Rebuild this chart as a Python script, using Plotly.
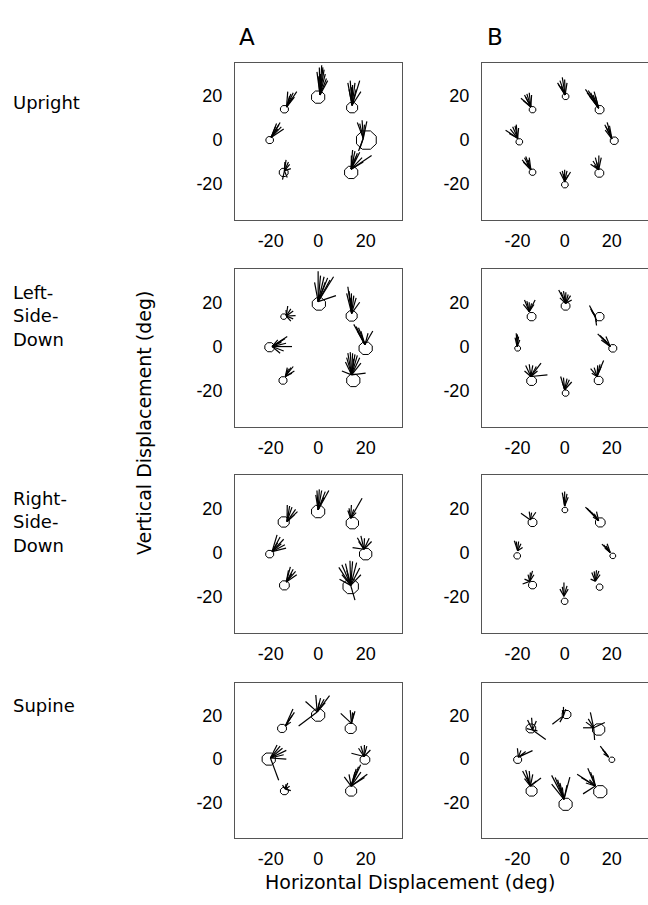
import numpy as np
import plotly.graph_objects as go

TICK_VALUES = [-20, 0, 20]
TICK_LABELS = ["-20", "0", "20"]
ROW_LABELS = ["Upright", "Left-<br>Side-<br>Down", "Right-<br>Side-<br>Down", "Supine"]
COL_LABELS = ["A", "B"]
X_TITLE = "Horizontal Displacement (deg)"
Y_TITLE = "Vertical Displacement (deg)"

# ---------- Column A, Upright ----------
A_UP_HULLS = [(0, 19.5, 3), (14.3, 14.7, 2.5), (20.3, 0, 4.5), (13.9, -14.7, 3),
              (-14.5, -14.7, 2), (-20.4, 0, 1.7), (-14.2, 14, 1.8)]
A_UP_ORIGINS = [(0.8, 20.5), (14.3, 15.8), (19, 0.8), (13.9, -13.2),
                (-14.2, -14), (-19.8, 1.2), (-13.3, 15)]
A_UP_ENDS = [
    [(-0.5, 31), (0.5, 33), (1.5, 34), (2, 33), (2.5, 32), (3, 30), (1, 30), (4, 27), (3.5, 28), (0, 29)],
    [(12.5, 26), (13.5, 27), (14.5, 25), (15.5, 26), (17.5, 27), (16, 23), (13, 23), (18, 22), (14, 24)],
    [(16.5, 8), (17.5, 7.5), (18.5, 9), (20.5, 8.5), (19.5, 7), (17, -5), (17.5, -4)],
    [(14.5, -4.5), (15.5, -5), (16.5, -6), (17.5, -5.5), (18.5, -8), (22.5, -7), (15, -8), (16, -7.5), (19, -10), (14, -7)],
    [(-13.5, -9), (-12.5, -10), (-12, -11), (-14, -10), (-11.5, -13), (-15, -18), (-13, -17)],
    [(-17.5, 7.5), (-16.5, 7), (-15.5, 6), (-16, 8), (-14.5, 5), (-18, 6), (-17, 5)],
    [(-12.8, 22), (-11.5, 21), (-10.5, 21.5), (-9, 22), (-10, 19.5), (-12, 20), (-11, 19)],
]

# ---------- Column B, Upright ----------
B_UP_HULLS = [(0.4, 19.8, 1.5), (14.8, 13.8, 2), (21, -0.3, 1.8), (14.7, -15, 2),
              (0.1, -20.3, 1.5), (-13.6, -14.6, 1.5), (-19.2, -0.8, 1.5), (-13.6, 13.8, 1.5)]
B_UP_ORIGINS = [(0.2, 20.5), (14.4, 14.5), (20, 0.5), (14.4, -13.5),
                (0, -18.8), (-14.3, -13.5), (-19.9, 0.8), (-14.3, 15)]
B_UP_ENDS = [
    [(-3, 26), (-2, 27), (-1, 28.5), (0, 27.5), (-2.5, 25), (1, 26), (-1.5, 24.5)],
    [(8.8, 23), (10, 22.5), (11, 21.5), (12, 20.5), (13, 20), (10.5, 20), (9.5, 21.5), (12.5, 22)],
    [(17, 7), (17.5, 6), (18, 8), (18.5, 5.5), (17.2, 4.5), (19, 6.5)],
    [(11, -11), (12, -9.5), (13, -8), (14.5, -7), (15.5, -8), (13.5, -10), (12.5, -11.5)],
    [(-2, -14.5), (-1, -14), (0, -13.5), (1, -14), (2.5, -14.5), (-0.5, -15.5), (1.5, -16)],
    [(-18, -9), (-17, -8), (-16.5, -7.5), (-15.5, -9), (-16, -10.5), (-17.5, -10), (-15, -8)],
    [(-25, 4.5), (-23, 5), (-21, 6.5), (-20.5, 7), (-22, 6), (-19.5, 5.5), (-23.5, 3)],
    [(-18.5, 19), (-17, 20.5), (-16, 21), (-15, 21.5), (-14, 20.5), (-17.5, 18), (-16.5, 19.5)],
]

# ---------- Column A, Left-Side-Down ----------
A_LSD_HULLS = [(0.3, 19.2, 3), (14.1, 13.8, 2.5), (20, -0.8, 3), (14.8, -15.3, 3),
               (-14.8, -15.3, 1.8), (-20.4, -0.3, 2.2), (-14.5, 13.5, 1.3)]
A_LSD_ORIGINS = [(0, 20.3), (14.1, 15), (19.7, 0.8), (14.1, -12.8),
                 (-13.8, -13.5), (-19.4, 0), (-13.4, 13.8)]
A_LSD_ENDS = [
    [(0, 34), (1, 32), (2.5, 31.5), (4, 31), (6.5, 31.5), (5, 30), (-1.5, 29), (7.5, 23), (3, 29)],
    [(12.5, 27), (13, 25), (14, 24), (15, 23), (16, 22), (17.5, 20), (13.5, 22), (12, 24)],
    [(15, 10), (16, 9), (17, 8.5), (18, 7), (23, 7), (16.5, 7), (21, 6)],
    [(12.5, -3), (13.5, -2.5), (14.5, -3), (15.5, -3.5), (16.5, -4), (17.5, -5), (12, -5), (10, -11),
     (20, -12), (11.5, -7), (18, -7.5), (15, -5.5)],
    [(-10.5, -9), (-11.5, -9.5), (-12.5, -10), (-11, -12), (-13, -9.5), (-10, -11)],
    [(-13, 4.5), (-14, 3.5), (-15, 3), (-11, 0), (-16, -3), (-14.5, -2), (-13.5, 1.5), (-15.5, 2), (-17, 3)],
    [(-12.8, 18.3), (-11.5, 17), (-10.5, 16), (-9.5, 14), (-10.5, 12.5), (-11.5, 11.5), (-13.5, 16.5)],
]

# ---------- Column B, Left-Side-Down ----------
B_LSD_HULLS = [(0.4, 18.3, 2), (14.8, 13.5, 2), (20.4, -0.8, 1.8), (14.4, -15.3, 2),
               (0.4, -21, 1.5), (-14, -15.5, 2.2), (-19.9, -0.8, 1.3), (-14, 13.5, 2)]
B_LSD_ORIGINS = [(0.4, 19.5), (13, 13.5), (19.3, 0), (13.7, -13.5),
                 (0, -19.5), (-14.3, -13.5), (-20.1, 0), (-15, 15.8)]
B_LSD_ENDS = [
    [(-2.5, 25.5), (-1.5, 24.5), (-0.5, 25), (0.5, 24.5), (1.5, 23.5), (2.5, 23), (-2, 22), (3, 21)],
    [(10.5, 18.5), (11, 17), (11.5, 16), (12, 15.5), (13.5, 11), (13.5, 9.5)],
    [(14, 5.7), (15, 5), (16, 4), (17, 3), (15.5, 3), (17.5, 4.5)],
    [(16.5, -6.3), (15, -8), (14, -8.5), (12.5, -9.5), (11, -10), (11.5, -12), (15.5, -9)],
    [(-1.7, -13.5), (-0.5, -14), (1, -14.5), (3, -16), (2, -15), (-1, -16)],
    [(-16.5, -8.5), (-15, -8), (-13.5, -8.5), (-12, -9), (-10, -7.5), (-7.3, -12.8), (-17, -11), (-11.5, -11)],
    [(-20.5, 6), (-20, 5.5), (-19.5, 4.5), (-21, 4), (-19, 3)],
    [(-17, 21), (-16, 20.5), (-15, 20), (-14, 19.5), (-12.5, 21), (-13, 19), (-17.5, 19)],
]

# ---------- Column A, Right-Side-Down ----------
A_RSD_HULLS = [(0, 18.5, 3), (14.4, 13.3, 2.8), (20, -0.7, 2.8), (13.7, -15.3, 3.5),
               (-14.2, -14.8, 2.2), (-20.4, -0.7, 1.8), (-14.5, 13.8, 2.5)]
A_RSD_ORIGINS = [(0, 19.3), (13.7, 15.5), (19.3, 1.5), (13.7, -14.8),
                 (-13.4, -13.3), (-19.4, 0.4), (-13.1, 14)]
A_RSD_ENDS = [
    [(-0.5, 28), (0.5, 28.5), (1.5, 28), (3, 27.5), (4.5, 28), (-1, 26), (2.5, 25)],
    [(18.5, 24.5), (14, 21.5), (13, 20), (12.5, 19), (15, 19.5), (16, 18)],
    [(16.5, 6.7), (18, 7.5), (19.5, 6.5), (21.5, 6.5), (22.5, 5), (14.5, 2.2), (17, 5)],
    [(8.7, -6.7), (10, -5.5), (11.5, -5), (13.4, -3.7), (14.5, -4), (16.2, -4.5), (17.5, -7), (18, -10),
     (15.5, -21.5), (10, -10), (12, -8), (9, -12)],
    [(-11.7, -6.5), (-10.5, -7.5), (-9.5, -8.5), (-9, -10), (-12.5, -8), (-11, -9.5)],
    [(-17.3, 8), (-16, 7), (-14.5, 6), (-13.5, 2), (-15.5, 4), (-17, 4.5), (-14, 3.5)],
    [(-13, 21.5), (-12, 21), (-11, 20.5), (-9.5, 19.5), (-8.7, 18.5), (-10, 17), (-12.5, 18)],
]

# ---------- Column B, Right-Side-Down ----------
B_RSD_HULLS = [(0.1, 19.2, 1.3), (15.1, 13.6, 2.2), (20.4, -1.5, 1.3), (14.8, -15.6, 1.5),
               (0, -22, 1.5), (-13.6, -14.7, 1.8), (-20.1, -1.5, 1.5), (-13.6, 13.6, 2)]
B_RSD_ORIGINS = [(0, 21), (14.4, 14.4), (19.3, 0), (13, -12.9),
                 (-0.3, -19.7), (-14.8, -13), (-19.9, 0.8), (-14.5, 14.7)]
B_RSD_ENDS = [
    [(-1, 27), (0, 27.5), (1, 26.5), (-0.5, 25), (1.5, 25)],
    [(8.8, 20.5), (9.5, 20), (10.5, 19), (11.5, 18), (12.5, 17.5), (13.5, 18.5), (12, 16)],
    [(15.8, 3.8), (16.5, 3.5), (17.5, 3), (18, 4), (17, 2)],
    [(11.5, -9), (12.5, -8.5), (13.5, -8), (14.5, -8.3), (11, -12), (15, -10)],
    [(-0.3, -13.5), (-2, -16.5), (1.5, -16.5), (1, -15), (-1, -15.5)],
    [(-13.6, -8.3), (-14.5, -9), (-15.5, -10), (-17, -12), (-17.8, -14.2), (-13, -10)],
    [(-21.3, 5.3), (-20.5, 5), (-19.5, 5), (-18.5, 4), (-17.8, 2.3)],
    [(-18.5, 17.7), (-15, 18.5), (-14, 18), (-12.2, 18.2)],
]

# ---------- Column A, Supine ----------
A_SUP_HULLS = [(0, 20.2, 3), (13.7, 14.1, 2.5), (19.7, -0.3, 2.2), (13.9, -14.7, 2.5),
               (-14.2, -14.7, 1.8), (-20.8, 0, 3), (-15.2, 14.1, 2)]
A_SUP_ORIGINS = [(-0.4, 21.7), (14, 16.4), (19.3, 1.2), (13.9, -12.4),
                 (-13.8, -13.8), (-20.1, 0.5), (-13.8, 15.2)]
A_SUP_ENDS = [
    [(-1, 29.5), (1, 28), (2.5, 27.5), (4.8, 29.2), (3, 26), (-5.3, 26.5), (-8.2, 15.2), (0.5, 26)],
    [(9.5, 21), (13.5, 22.5), (15.5, 22), (15, 21), (14.5, 21.5)],
    [(18, 6), (19.5, 6.5), (20.5, 6), (22, 4.2), (14, 2.7), (17, 5)],
    [(17.9, -2.6), (17, -3.5), (16, -4.5), (15.5, -6), (20.7, -7), (19.5, -8.5), (11, -8.2), (13, -7), (18, -6)],
    [(-12.8, -11), (-13.5, -11.5), (-12, -12.5), (-11.5, -14.5), (-15, -12)],
    [(-17.3, 6.5), (-16, 6), (-15, 5), (-13.4, 4), (-13.4, 0), (-14.5, 2), (-16.6, -9.7)],
    [(-10.6, 23), (-10, 21.5), (-11, 20), (-12, 18.5), (-11.5, 17)],
]

# ---------- Column B, Supine ----------
B_SUP_HULLS = [(0.8, 20.5, 2), (14.4, 13.6, 2.8), (20, -0.3, 1.3), (15.1, -15, 3),
               (0.4, -20.8, 3), (-14, -14.7, 2.5), (-19.9, -0.3, 1.8), (-14.3, 14.1, 2.2)]
B_SUP_ORIGINS = [(-0.5, 20), (12.3, 14.4), (18.6, 0.9), (13, -12.4),
                 (-0.3, -18.5), (-14.5, -12.4), (-19.6, 0.9), (-13.6, 13.4)]
B_SUP_ENDS = [
    [(-0.5, 24), (0.5, 23), (-5.2, 16), (-2, 17), (-1, 22.5)],
    [(10.9, 21.5), (9, 17), (7.8, 14.4), (12.7, 8.8), (17, 16.8), (11, 15), (10, 18.5)],
    [(15.1, 6), (16, 4.5), (17, 3.5), (16.5, 2.5)],
    [(5.3, -7), (7, -8.5), (9.8, -4.2), (11, -6), (12, -7.5), (7.8, -16), (9, -11), (10.5, -9.5)],
    [(-5.5, -7.5), (-4, -8.5), (-3, -9.5), (-5.5, -11.5), (-2, -11), (2.2, -8.3), (1, -12), (-1, -13)],
    [(-17.8, -5.5), (-16.5, -5), (-15, -5.5), (-13.5, -7), (-10, -8.7), (-17, -9), (-12, -10), (-16, -8)],
    [(-20, 5), (-18.5, 4), (-16.5, 3.5), (-13.6, 3.9), (-17, 2.5)],
    [(-15.7, 18), (-14, 19), (-12, 17.5), (-8, 9), (-16, 14), (-11.5, 13)],
]

PANELS = [
    [(A_UP_HULLS, A_UP_ORIGINS, A_UP_ENDS), (B_UP_HULLS, B_UP_ORIGINS, B_UP_ENDS)],
    [(A_LSD_HULLS, A_LSD_ORIGINS, A_LSD_ENDS), (B_LSD_HULLS, B_LSD_ORIGINS, B_LSD_ENDS)],
    [(A_RSD_HULLS, A_RSD_ORIGINS, A_RSD_ENDS), (B_RSD_HULLS, B_RSD_ORIGINS, B_RSD_ENDS)],
    [(A_SUP_HULLS, A_SUP_ORIGINS, A_SUP_ENDS), (B_SUP_HULLS, B_SUP_ORIGINS, B_SUP_ENDS)],
]

# ---------- layout geometry (pixels) ----------
W, H = 648, 905
COL_PX = [(235, 402), (482, 648)]
ROW_PX = [(63, 220), (269, 427), (475, 633), (683, 838)]
X_RANGE = [-35, 35.3]
Y_RANGE = [-36.3, 35]

fig = go.Figure()
hull_angles = np.deg2rad(np.arange(0, 361, 45) + 22.5)

layout = dict(
    width=W, height=H, margin=dict(l=0, r=0, t=0, b=0),
    paper_bgcolor="white", plot_bgcolor="white", showlegend=False,
)
annotations = []

idx = 0
for r, row in enumerate(PANELS):
    for c, (hulls, origins, ends) in enumerate(row):
        idx += 1
        xa = "x" if idx == 1 else f"x{idx}"
        ya = "y" if idx == 1 else f"y{idx}"
        lx, ly = [], []
        for (ox, oy), fan in zip(origins, ends):
            for ex, ey in fan:
                lx += [ox, ex, None]
                ly += [oy, ey, None]
        fig.add_trace(go.Scatter(x=lx, y=ly, mode="lines", xaxis=xa, yaxis=ya,
                                 line=dict(color="black", width=1.2), hoverinfo="skip"))
        hx, hy = [], []
        for cx, cy, rad in hulls:
            hx += list(cx + rad * np.cos(hull_angles)) + [None]
            hy += list(cy + rad * np.sin(hull_angles)) + [None]
        fig.add_trace(go.Scatter(x=hx, y=hy, mode="lines", xaxis=xa, yaxis=ya,
                                 line=dict(color="black", width=1), hoverinfo="skip"))
        x0, x1 = COL_PX[c]
        y0, y1 = ROW_PX[r]
        axis_common = dict(
            showgrid=False, zeroline=False, showline=True, mirror=True,
            linecolor="#555", linewidth=1, ticks="", tickvals=TICK_VALUES,
            ticktext=TICK_LABELS, fixedrange=True,
            tickfont=dict(family="Liberation Sans, Arial", size=18, color="black"),
        )
        layout["xaxis" if idx == 1 else f"xaxis{idx}"] = dict(
            axis_common, domain=[x0 / W, x1 / W], range=X_RANGE, anchor=ya,
            ticklabelstandoff=4)
        layout["yaxis" if idx == 1 else f"yaxis{idx}"] = dict(
            axis_common, domain=[1 - y1 / H, 1 - y0 / H], range=Y_RANGE, anchor=xa,
            ticklabelstandoff=8)

TEXT_FONT = dict(family="DejaVu Sans", size=19, color="black")

for c, lab in enumerate(COL_LABELS):
    annotations.append(dict(text=lab, x=[237, 485][c] / W, y=1 - 37 / H, xref="paper", yref="paper",
                            xanchor="left", yanchor="middle", showarrow=False,
                            font=dict(family="DejaVu Sans", size=23, color="black")))
ROW_LABEL_TOP = [90, 280, 486, 693]
ROW_FONT = dict(family="DejaVu Sans", size=18, color="black")
for r, lab in enumerate(ROW_LABELS):
    annotations.append(dict(text=lab, x=11 / W, y=1 - ROW_LABEL_TOP[r] / H, xref="paper", yref="paper",
                            xanchor="left", yanchor="top", align="left", showarrow=False,
                            font=ROW_FONT))
annotations.append(dict(text=X_TITLE, x=410 / W, y=1 - 882 / H, xref="paper", yref="paper",
                        xanchor="center", yanchor="middle", showarrow=False, font=TEXT_FONT))
annotations.append(dict(text=Y_TITLE, x=144 / W, y=1 - 423 / H, xref="paper", yref="paper",
                        xanchor="center", yanchor="middle", showarrow=False, textangle=-90,
                        font=TEXT_FONT))

layout["annotations"] = annotations
fig.update_layout(**layout)
fig.write_html("out.html", config={"displayModeBar": False},
               post_script="document.body.style.margin='0';document.body.style.overflow='hidden';")
